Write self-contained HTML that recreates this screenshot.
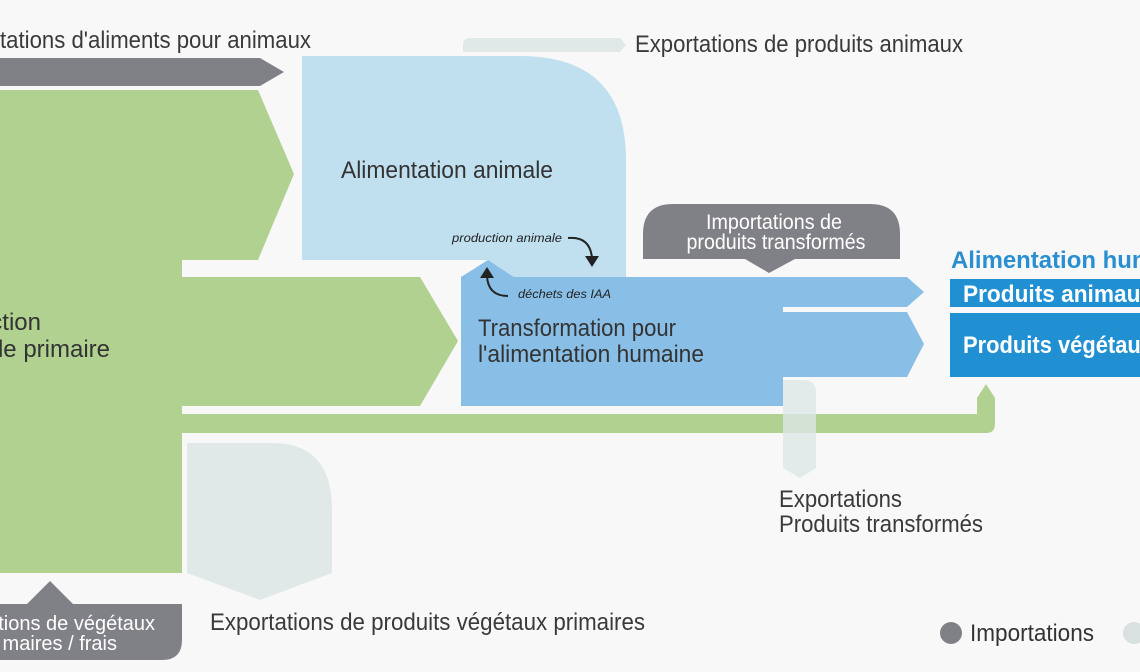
<!DOCTYPE html>
<html><head><meta charset="utf-8"><style>
html,body{margin:0;padding:0;background:#f8f8f8;}
svg{display:block;}
text{font-family:"Liberation Sans Narrow","Liberation Sans",sans-serif;}
</style></head><body>
<svg width="1140" height="672" viewBox="0 0 1140 672" xmlns="http://www.w3.org/2000/svg">
<rect width="1140" height="672" fill="#f8f8f8"/>
<polygon points="0,58 260,58 284,72 260,86 0,86" fill="#808087"/>
<text x="0" y="48" font-size="24" fill="#3a3a3a" textLength="311" lengthAdjust="spacingAndGlyphs">tations d'aliments pour animaux</text>
<path d="M470,38 L620,38 L626,45 L620,52 L463,52 L463,45 Q463,38 470,38Z" fill="#e0e8e8"/>
<text x="635" y="52" font-size="24" fill="#3a3a3a" textLength="328" lengthAdjust="spacingAndGlyphs">Exportations de produits animaux</text>
<polygon points="0,90 258,90 294,174 258,260 182,260 182,277 420,277 458,341 420,406 182,406 182,573 0,573" fill="#b1d190"/>
<path d="M182,414 L995,414 L995,424 Q995,433 986,433 L182,433Z" fill="#b1d190"/>
<polygon points="977,414 977,398 986,384 995,398 995,414" fill="#b1d190"/>
<path d="M302,56 L520,56 Q626,56 626,160 L626,277 L514,277 L488,260 L302,260Z" fill="#c0e0f0"/>
<path d="M461,277 L488,260 L514,277 L907,277 L924,292 L907,307 L783,307 L783,312 L907,312 L924,344 L907,377 L783,377 L783,406 L461,406Z" fill="#89bfe6"/>
<path d="M643,259 L643,234 Q643,204 673,204 L870,204 Q900,204 900,234 L900,259 L795,259 L769,273 L745,259Z" fill="#808087"/>
<text x="774" y="229" font-size="21" fill="#fff" text-anchor="middle" textLength="136" lengthAdjust="spacingAndGlyphs">Importations de</text>
<text x="776" y="249" font-size="21" fill="#fff" text-anchor="middle" textLength="179" lengthAdjust="spacingAndGlyphs">produits transformés</text>
<text x="951" y="268" font-size="24" font-weight="bold" fill="#2a8fd0" textLength="250" lengthAdjust="spacingAndGlyphs">Alimentation humaine</text>
<rect x="950" y="279" width="190" height="28" fill="#2190d3"/>
<rect x="950" y="313" width="190" height="64" fill="#2190d3"/>
<text x="963" y="302" font-size="24" font-weight="bold" fill="#fff" textLength="190" lengthAdjust="spacingAndGlyphs">Produits animaux</text>
<text x="963" y="353" font-size="24" font-weight="bold" fill="#fff" textLength="190" lengthAdjust="spacingAndGlyphs">Produits végétaux</text>
<path d="M783,380 L803,380 Q816,380 816,393 L816,468 L800,478 L783,468Z" fill="#dde6e6" opacity="0.8"/>
<text x="779" y="507" font-size="24" fill="#3a3a3a" textLength="123" lengthAdjust="spacingAndGlyphs">Exportations</text>
<text x="779" y="532" font-size="24" fill="#3a3a3a" textLength="204" lengthAdjust="spacingAndGlyphs">Produits transformés</text>
<path d="M187,443 L272,443 Q332,443 332,510 L332,573 L260,600 L187,573Z" fill="#e0e8e8"/>
<text x="210" y="630" font-size="24" fill="#3a3a3a" textLength="435" lengthAdjust="spacingAndGlyphs">Exportations de produits végétaux primaires</text>
<path d="M0,604 L27,604 L50,581 L73,604 L182,604 L182,640 Q182,660 162,660 L0,660Z" fill="#808087"/>
<text x="155" y="630" font-size="20" fill="#fff" text-anchor="end">tions de végétaux</text>
<text x="117" y="650" font-size="20" fill="#fff" text-anchor="end">maires / frais</text>
<text x="341" y="178" font-size="24" fill="#333" textLength="212" lengthAdjust="spacingAndGlyphs">Alimentation animale</text>
<text x="452" y="242" font-size="12" font-style="italic" fill="#222" textLength="110" lengthAdjust="spacingAndGlyphs">production animale</text>
<path d="M568,238 Q590,236 592,258" fill="none" stroke="#222" stroke-width="2"/>
<polygon points="585,256 599,256 592,267" fill="#222"/>
<text x="518" y="298" font-size="12" font-style="italic" fill="#222" textLength="93" lengthAdjust="spacingAndGlyphs">déchets des IAA</text>
<path d="M508,296 Q488,296 487,276" fill="none" stroke="#222" stroke-width="2"/>
<polygon points="480,278 494,278 487,267" fill="#222"/>
<text x="478" y="336" font-size="24" fill="#333" textLength="198" lengthAdjust="spacingAndGlyphs">Transformation pour</text>
<text x="478" y="362" font-size="24" fill="#333" textLength="226" lengthAdjust="spacingAndGlyphs">l'alimentation humaine</text>
<text x="41" y="330" font-size="24" fill="#333" text-anchor="end">Production</text>
<text x="110" y="357" font-size="24" fill="#333" text-anchor="end">végétale primaire</text>
<circle cx="951" cy="633" r="11" fill="#808087"/>
<text x="970" y="641" font-size="24" fill="#333" textLength="124" lengthAdjust="spacingAndGlyphs">Importations</text>
<circle cx="1134" cy="633" r="11" fill="#d8e0e0"/>
</svg>
</body></html>
